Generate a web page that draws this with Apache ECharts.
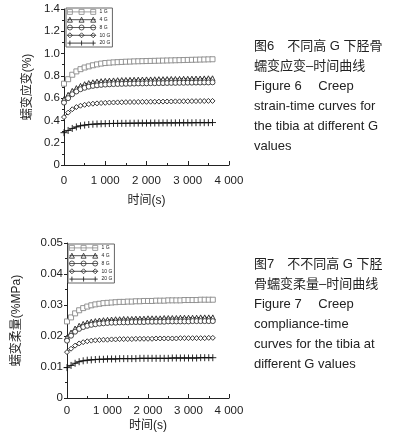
<!DOCTYPE html>
<html>
<head>
<meta charset="utf-8">
<script src="https://cdn.jsdelivr.net/npm/echarts@6/dist/echarts.min.js"></script>
<style>
  html, body { margin: 0; padding: 0; background: #fff; }
  #chart { width: 396px; height: 443px; }
</style>
</head>
<body>
<div id="chart"></div>
<script>
var times = [0, 100, 200, 300, 400, 500, 600, 700, 800, 900, 1000, 1100, 1200, 1300, 1400, 1500, 1600, 1700, 1800, 1900,
  2000, 2100, 2200, 2300, 2400, 2500, 2600, 2700, 2800, 2900, 3000, 3100, 3200, 3300, 3400, 3500, 3600];
var seriesNames = ["1 G", "4 G", "8 G", "10 G", "20 G"];

// Figure 6: creep strain (%)
var strain1G = [0.73,0.77,0.81,0.84,0.86,0.875,0.885,0.895,0.903,0.91,0.915,0.918,0.921,0.923,0.925,0.927,0.928,0.93,0.931,0.932,0.933,0.934,0.935,0.936,0.937,0.938,0.939,0.94,0.941,0.942,0.943,0.944,0.945,0.946,0.947,0.948,0.949];
var strain4G = [0.59,0.63,0.665,0.69,0.71,0.725,0.735,0.742,0.748,0.752,0.755,0.757,0.759,0.761,0.762,0.763,0.764,0.765,0.766,0.767,0.768,0.768,0.769,0.77,0.77,0.771,0.772,0.772,0.773,0.774,0.774,0.775,0.776,0.776,0.777,0.778,0.778];
var strain8G = [0.56,0.6,0.635,0.66,0.68,0.693,0.703,0.71,0.715,0.719,0.722,0.724,0.726,0.727,0.728,0.729,0.73,0.731,0.732,0.732,0.733,0.734,0.734,0.735,0.735,0.736,0.737,0.737,0.738,0.738,0.739,0.739,0.74,0.74,0.741,0.741,0.742];
var strain10G = [0.43,0.47,0.5,0.52,0.532,0.54,0.546,0.55,0.553,0.556,0.558,0.56,0.561,0.562,0.563,0.564,0.565,0.565,0.566,0.567,0.567,0.568,0.568,0.569,0.569,0.57,0.57,0.571,0.571,0.572,0.572,0.573,0.573,0.574,0.574,0.575,0.575];
var strain20G = [0.29,0.31,0.328,0.342,0.352,0.358,0.363,0.366,0.368,0.37,0.371,0.372,0.373,0.373,0.374,0.374,0.375,0.375,0.376,0.376,0.376,0.377,0.377,0.377,0.378,0.378,0.378,0.378,0.379,0.379,0.379,0.379,0.38,0.38,0.38,0.38,0.381];

// Figure 7: creep compliance (%/MPa)
var comp1G = [0.0247,0.026,0.0273,0.0283,0.029,0.0295,0.0299,0.0302,0.0304,0.0306,0.0307,0.0308,0.0309,0.031,0.031,0.0311,0.0311,0.0312,0.0312,0.0313,0.0313,0.0313,0.0314,0.0314,0.0314,0.0315,0.0315,0.0315,0.0315,0.0316,0.0316,0.0316,0.0316,0.0317,0.0317,0.0317,0.0317];
var comp4G = [0.0195,0.0211,0.0224,0.0233,0.0239,0.0243,0.0246,0.0248,0.025,0.0251,0.0252,0.0253,0.0254,0.0254,0.0255,0.0255,0.0255,0.0256,0.0256,0.0256,0.0257,0.0257,0.0257,0.0257,0.0258,0.0258,0.0258,0.0258,0.0259,0.0259,0.0259,0.0259,0.0259,0.026,0.026,0.026,0.026];
var comp8G = [0.0185,0.0201,0.0214,0.0223,0.0229,0.0233,0.0236,0.0238,0.024,0.0241,0.0242,0.0243,0.0243,0.0244,0.0244,0.0244,0.0245,0.0245,0.0245,0.0245,0.0246,0.0246,0.0246,0.0246,0.0246,0.0247,0.0247,0.0247,0.0247,0.0247,0.0247,0.0248,0.0248,0.0248,0.0248,0.0248,0.0248];
var comp10G = [0.0148,0.0159,0.0169,0.0176,0.018,0.0183,0.0185,0.0186,0.0187,0.0188,0.0188,0.0189,0.0189,0.019,0.019,0.019,0.019,0.0191,0.0191,0.0191,0.0191,0.0191,0.0192,0.0192,0.0192,0.0192,0.0192,0.0192,0.0193,0.0193,0.0193,0.0193,0.0193,0.0193,0.0193,0.0194,0.0194];
var comp20G = [0.0098,0.0105,0.0112,0.0117,0.012,0.0122,0.0123,0.0124,0.0125,0.0125,0.0126,0.0126,0.0126,0.0127,0.0127,0.0127,0.0127,0.0127,0.0128,0.0128,0.0128,0.0128,0.0128,0.0128,0.0128,0.0128,0.0129,0.0129,0.0129,0.0129,0.0129,0.0129,0.0129,0.013,0.013,0.013,0.013];

var xTickLabels = ["0", "1 000", "2 000", "3 000", "4 000"];

var FONT = "Liberation Sans, Arial, Noto Sans CJK SC, sans-serif";
var TXT = "#222";

var symbols = ["rect", "triangle", "circle", "diamond", "path://M0,5L10,5M5,0L5,10"];
var markColors = ["#888", "#222", "#333", "#222", "#111"];
// legend icons: line with three markers
var legendIcons = [
  "path://M0,5L34,5M0,2h6v6h-6zM14,2h6v6h-6zM28,2h6v6h-6z",
  "path://M0,5L34,5M3,2L6,8L0,8zM17,2L20,8L14,8zM31,2L34,8L28,8z",
  "path://M0,5L34,5M0,5a3,3 0 1,0 6,0a3,3 0 1,0 -6,0zM14,5a3,3 0 1,0 6,0a3,3 0 1,0 -6,0zM28,5a3,3 0 1,0 6,0a3,3 0 1,0 -6,0z",
  "path://M0,5L34,5M3,2L6,5L3,8L0,5zM17,2L20,5L17,8L14,5zM31,2L34,5L31,8L28,5z",
  "path://M0,5L34,5M3,2L3,8M17,2L17,8M31,2L31,8"
];

function pairs(vals) {
  return vals.map(function (v, i) { return [times[i], v]; });
}

function makeSeries(list, idx) {
  return list.map(function (vals, i) {
    return {
      name: seriesNames[i],
      type: "line",
      xAxisIndex: idx,
      yAxisIndex: idx,
      data: pairs(vals),
      symbol: symbols[i],
      symbolSize: i === 4 ? 7 : 5,
      showAllSymbol: true,
      lineStyle: { color: "#222", width: 1 },
      itemStyle: { color: "#fff", borderColor: markColors[i], borderWidth: 0.9 },
      animation: false
    };
  });
}

function xAxis(idx, margin, gap) {
  return {
    type: "value", gridIndex: idx, min: 0, max: 4000, interval: 1000,
    axisLine: { lineStyle: { color: "#222", width: 1 } },
    axisTick: { inside: true, length: 4, lineStyle: { color: "#222" } },
    minorTick: { show: true, splitNumber: 2, length: 2, lineStyle: { color: "#222" } },
    splitLine: { show: false },
    axisLabel: {
      color: TXT, fontSize: 11.5, fontFamily: FONT, margin: margin,
      formatter: function (v) { return xTickLabels[Math.round(v / 1000)]; }
    },
    name: "时间(s)", nameLocation: "middle", nameGap: gap,
    nameTextStyle: { color: TXT, fontSize: 12, fontFamily: FONT }
  };
}

function yAxis(idx, max, interval, digits, name, gap) {
  return {
    type: "value", gridIndex: idx, min: 0, max: max, interval: interval,
    axisLine: { show: true, lineStyle: { color: "#222", width: 1 } },
    axisTick: { show: true, inside: false, length: 3, lineStyle: { color: "#222" } },
    minorTick: { show: true, splitNumber: 2, length: 2, lineStyle: { color: "#222" } },
    splitLine: { show: false },
    axisLabel: {
      color: TXT, fontSize: 11.5, fontFamily: FONT, margin: 4,
      formatter: function (v) { return v === 0 ? "0" : v.toFixed(digits); }
    },
    name: name, nameLocation: "middle", nameGap: gap, nameRotate: 90,
    nameTextStyle: { color: TXT, fontSize: 12, fontFamily: FONT }
  };
}

function legend(left, top) {
  return {
    data: seriesNames.map(function (n, i) { return { name: n, icon: legendIcons[i] }; }),
    orient: "vertical",
    left: left, top: top,
    itemWidth: 30, itemHeight: 5, itemGap: 2,
    padding: [1, 2, 1, 1],
    borderColor: "#666", borderWidth: 1,
    itemStyle: { borderWidth: 0.8 },
    textStyle: { color: TXT, fontSize: 5, fontFamily: FONT, padding: [0, 0, 0, -2] },
    selectedMode: false
  };
}

var chart = echarts.init(document.getElementById("chart"));
chart.setOption({
  animation: false,
  grid: [
    { left: 64, top: 9, width: 165, height: 156 },
    { left: 67, top: 243, width: 162, height: 155 }
  ],
  xAxis: [xAxis(0, 10, 30), xAxis(1, 7, 22)],
  yAxis: [
    yAxis(0, 1.4, 0.2, 1, "蠕变应变(%)", 30),
    yAxis(1, 0.05, 0.01, 2, "蠕变柔量(%MPa)", 44)
  ],
  legend: [legend(66, 8), legend(68, 244)],
  title: [
    {
      text: "图6　不同高 G 下胫骨\n蠕变应变–时间曲线\nFigure 6　 Creep\nstrain-time curves for\nthe tibia at different G\nvalues",
      left: 254, top: 36, padding: 0,
      textStyle: { color: TXT, fontSize: 13, fontWeight: "normal", fontFamily: FONT, lineHeight: 20 }
    },
    {
      text: "图7　不不同高 G 下胫\n骨蠕变柔量–时间曲线\nFigure 7　 Creep\ncompliance-time\ncurves for the tibia at\ndifferent G values",
      left: 254, top: 254, padding: 0,
      textStyle: { color: TXT, fontSize: 13, fontWeight: "normal", fontFamily: FONT, lineHeight: 20 }
    }
  ],
  series: makeSeries([strain1G, strain4G, strain8G, strain10G, strain20G], 0)
    .concat(makeSeries([comp1G, comp4G, comp8G, comp10G, comp20G], 1))
});
</script>
</body>
</html>
